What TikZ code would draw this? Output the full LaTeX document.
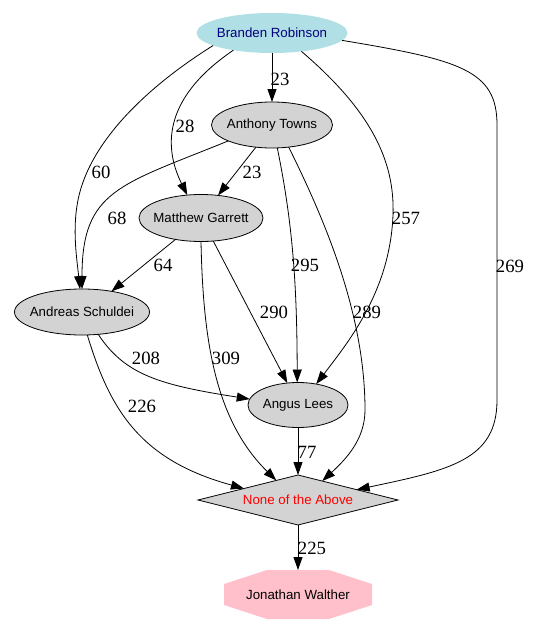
\documentclass[tikz,border=0pt]{standalone}
\usepackage{fontspec}
\setmainfont{Liberation Serif}
\newfontfamily\hv{Liberation Sans}
\usetikzlibrary{shapes.geometric,arrows.meta,calc,backgrounds}
\definecolor{powder}{HTML}{B0E0E6}
\definecolor{navyc}{HTML}{000080}
\definecolor{lgray}{HTML}{D3D3D3}
\definecolor{pinkc}{HTML}{FFC0CB}
\begin{document}
\begin{tikzpicture}[x=1pt,y=-1pt,
  every node/.style={inner sep=0pt, outer sep=0pt},
  nfont/.style={font=\hv\fontsize{13.3}{15}\selectfont},
  person/.style={nfont, ellipse, draw=black, line width=0.8pt, fill=lgray},
  elabel/.style={font=\fontsize{18.7}{20}\selectfont},
  edge/.style={line width=0.8pt, -{Triangle[length=13pt,width=9pt]}}
]
\useasboundingbox (0,0) rectangle (534,626);
% nodes
\node[nfont, ellipse, fill=powder, text=navyc, minimum width=151pt, minimum height=40pt] (BR) at (272,33) {\makebox[0pt]{Branden Robinson}};
\node[person, minimum width=121pt, minimum height=46pt] (AT) at (272,125) {\makebox[0pt]{Anthony Towns}};
\node[person, minimum width=124pt, minimum height=47pt] (MG) at (201,218) {\makebox[0pt]{Matthew Garrett}};
\node[person, minimum width=135pt, minimum height=46pt] (AS) at (82,312) {\makebox[0pt]{Andreas Schuldei}};
\node[person, minimum width=100pt, minimum height=45pt] (AL) at (298,405) {\makebox[0pt]{Angus Lees}};
\node[nfont, diamond, draw=black, line width=0.8pt, fill=lgray, text=red, minimum width=200pt, minimum height=50pt] (NA) at (298,500) {\makebox[0pt]{None of the Above}};
\node[nfont, rectangle, minimum width=148pt, minimum height=49pt] (JW) at (298,594.5) {\makebox[0pt]{Jonathan Walther}};
\begin{scope}[on background layer]
\fill[pinkc] ($(JW.north west)+(43,0)$) -- ($(JW.north east)+(-43,0)$) -- ($(JW.north east)+(0,14)$)
  -- ($(JW.south east)+(0,-14)$) -- ($(JW.south east)+(-43,0)$) -- ($(JW.south west)+(43,0)$)
  -- ($(JW.south west)+(0,-14)$) -- ($(JW.north west)+(0,14)$) -- cycle;
\end{scope}
% edges
\draw[edge] (BR.-90) -- (AT.90);
\draw[edge] (BR.-156.6) .. controls (160,100) and (165,150) .. (MG.121.3);
\draw[edge] (BR.-168.2) .. controls (150,85) and (90,140) .. (78,200) .. controls (72,230) and (77,260) .. (AS.95);
\draw[edge] (BR.-32.8) .. controls (370,110) and (395,160) .. (393,215) .. controls (390,290) and (350,340) .. (AL.49);
\draw[edge] (BR.-6.9) .. controls (460,60) and (497,70) .. (497,125) -- (497,400) .. controls (497,460) and (450,470) .. (NA.10.4);
\draw[edge] (AT.-126.5) -- (MG.53.5);
\draw[edge] (AT.-160.9) .. controls (120,185) and (82,190) .. (AS.90);
\draw[edge] (AT.-77.7) .. controls (292,220) and (297,280) .. (AL.92);
\draw[edge] (AT.-53.1) .. controls (330,230) and (365,320) .. (365,410) .. controls (365,440) and (345,460) .. (NA.38.4);
\draw[edge] (MG.-140.6) -- (AS.35);
\draw[edge] (MG.-62.4) -- (AL.116.6);
\draw[edge] (MG.-90) .. controls (203,340) and (215,420) .. (NA.138.7);
\draw[edge] (AS.-54) .. controls (125,375) and (160,385) .. (AL.173.2);
\draw[edge] (AS.-77.7) .. controls (110,410) and (140,460) .. (NA.168.3);
\draw[edge] (AL.-90) -- (NA.90);
\draw[edge] (NA.-90) -- (JW.north);
% edge labels
\node[elabel] (l1) at (280,79) {23};
\node[elabel] (l2) at (185,126) {28};
\node[elabel] (l3) at (101,172) {60};
\node[elabel] (l4) at (406,218) {257};
\node[elabel] (l5) at (510,266) {269};
\node[elabel] (l6) at (252,172) {23};
\node[elabel] (l7) at (117,218) {68};
\node[elabel] (l8) at (305,265) {295};
\node[elabel] (l9) at (367,312) {289};
\node[elabel] (l10) at (163,265) {64};
\node[elabel] (l11) at (274,312) {290};
\node[elabel] (l12) at (226,358) {309};
\node[elabel] (l13) at (146,358) {208};
\node[elabel] (l14) at (142,406) {226};
\node[elabel] (l15) at (307,452) {77};
\node[elabel] (l16) at (312,548) {225};
\end{tikzpicture}
\end{document}
